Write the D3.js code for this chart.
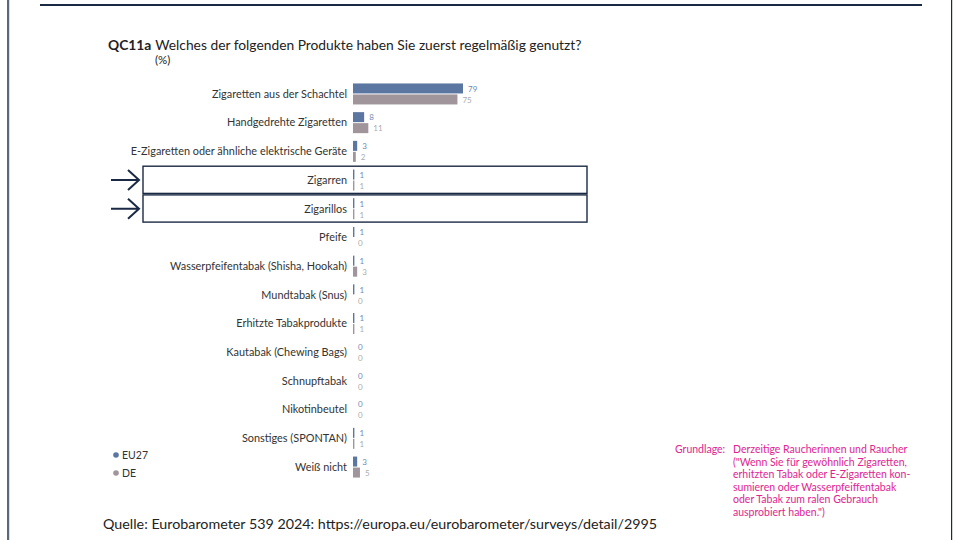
<!DOCTYPE html>
<html>
<head>
<meta charset="utf-8">
<script src="https://cdn.jsdelivr.net/npm/d3@7"></script>
<style>
  body { margin: 0; background: #fff; }
  svg { display: block; font-family: Lato, "Noto Sans", sans-serif; }
</style>
</head>
<body>
<svg id="chart"></svg>
<script>
//
// Data
//
const categories = [
  'Zigaretten aus der Schachtel',
  'Handgedrehte Zigaretten',
  'E-Zigaretten oder ähnliche elektrische Geräte',
  'Zigarren',
  'Zigarillos',
  'Pfeife',
  'Wasserpfeifentabak (Shisha, Hookah)',
  'Mundtabak (Snus)',
  'Erhitzte Tabakprodukte',
  'Kautabak (Chewing Bags)',
  'Schnupftabak',
  'Nikotinbeutel',
  'Sonstiges (SPONTAN)',
  'Weiß nicht'
];
const eu27Values = [79, 8, 3, 1, 1, 1, 1, 1, 1, 0, 0, 0, 1, 3];
const deValues = [75, 11, 2, 1, 1, 0, 3, 0, 1, 0, 0, 0, 1, 5];
const seriesNames = ['EU27', 'DE'];
const highlighted = ['Zigarren', 'Zigarillos'];

const titleCode = 'QC11a';
const titleText = 'Welches der folgenden Produkte haben Sie zuerst regelmäßig genutzt?';
const unitText = '(%)';
const sourceText = 'Quelle: Eurobarometer 539 2024: https://europa.eu/eurobarometer/surveys/detail/2995';
const noteLabel = 'Grundlage:';
const noteLines = [
  'Derzeitige Raucherinnen und Raucher',
  '("Wenn Sie für gewöhnlich Zigaretten,',
  'erhitzten Tabak oder E-Zigaretten kon-',
  'sumieren oder Wasserpfeiffentabak',
  'oder Tabak zum ralen Gebrauch',
  'ausprobiert haben.")'
];

//
// Set-up
//
const width = 955;
const height = 540;
const colors = { EU27: '#5b76a0', DE: '#a0959a' };
const labelColors = { EU27: '#7189b3', DE: '#ababab' };
const navy = '#1b2a44';
const pink = '#e2248f';

const svg = d3.select('#chart')
  .attr('width', width)
  .attr('height', height);

// page frame
svg.append('rect')
  .attr('x', 7).attr('y', -2).attr('width', 2.2).attr('height', height + 4)
  .attr('fill', '#5b6878');
svg.append('rect')
  .attr('x', 951).attr('y', -2).attr('width', 1.2).attr('height', height + 4)
  .attr('fill', navy);
svg.append('rect')
  .attr('x', 40).attr('y', 4).attr('width', 882).attr('height', 2)
  .attr('fill', navy);

// scales
const xScale = d3.scaleLinear().domain([0, 79]).range([353, 463]);
const yScale = d3.scaleBand().domain(categories).range([79.6, 481.4]).padding(0);
const half = 10;

// highlight boxes + arrows
const hl = svg.append('g');
highlighted.forEach(c => {
  const y0 = yScale(c);
  const cy = y0 + yScale.bandwidth() / 2;
  hl.append('rect')
    .attr('x', 143).attr('y', y0 + 0.5)
    .attr('width', 444).attr('height', yScale.bandwidth() - 1.5)
    .attr('fill', 'none').attr('stroke', navy).attr('stroke-width', 1.4);
  hl.append('path')
    .attr('d', `M111,${cy}H139M128,${cy - 10}L139,${cy}L128,${cy + 10}`)
    .attr('fill', 'none').attr('stroke', navy).attr('stroke-width', 2);
});

// bars
const rows = svg.append('g').selectAll('g.row')
  .data(categories.map((c, i) => ({ c, EU27: eu27Values[i], DE: deValues[i] })))
  .enter().append('g')
  .attr('class', 'row')
  .attr('transform', d => `translate(0,${yScale(d.c) + yScale.bandwidth() / 2})`);

rows.append('text')
  .attr('x', 347).attr('y', 0).attr('dy', '0.35em')
  .attr('text-anchor', 'end')
  .attr('font-size', 10.9).attr('fill', '#333')
  .text(d => d.c);

seriesNames.forEach((s, si) => {
  rows.append('rect')
    .attr('x', xScale(0))
    .attr('y', si === 0 ? -half - 0.5 : 0.5)
    .attr('width', d => xScale(d[s]) - xScale(0))
    .attr('height', half)
    .attr('fill', colors[s]);
  rows.append('text')
    .attr('x', d => xScale(d[s]) + 5)
    .attr('y', si === 0 ? -half / 2 : half / 2 + 1)
    .attr('dy', '0.35em')
    .attr('font-size', 8)
    .attr('fill', labelColors[s])
    .text(d => d[s]);
});

// title
const title = svg.append('text').attr('x', 108).attr('y', 50).attr('font-size', 13.8).attr('fill', '#222');
title.append('tspan').attr('font-weight', 'bold').text(titleCode);
title.append('tspan').attr('dx', 4).text(titleText);
svg.append('text').attr('x', 155).attr('y', 64).attr('font-size', 11.5).attr('fill', '#222').text(unitText);

// legend
const legend = svg.append('g').selectAll('g')
  .data(seriesNames).enter().append('g')
  .attr('transform', (d, i) => `translate(116,${455 + i * 18})`);
legend.append('circle').attr('r', 2.8).attr('fill', d => colors[d]);
legend.append('text').attr('x', 6).attr('dy', '0.35em')
  .attr('font-size', 10.5).attr('fill', '#333').text(d => d);

// note
svg.append('text').attr('x', 675).attr('y', 453).attr('font-size', 10.5).attr('fill', pink).text(noteLabel);
svg.append('g').selectAll('text').data(noteLines).enter().append('text')
  .attr('x', 733).attr('y', (d, i) => 453 + i * 12.5)
  .attr('font-size', 10.5).attr('fill', pink).text(d => d);

// source
svg.append('text').attr('x', 103).attr('y', 529).attr('font-size', 14.3).attr('fill', '#222').text(sourceText);
</script>
</body>
</html>
